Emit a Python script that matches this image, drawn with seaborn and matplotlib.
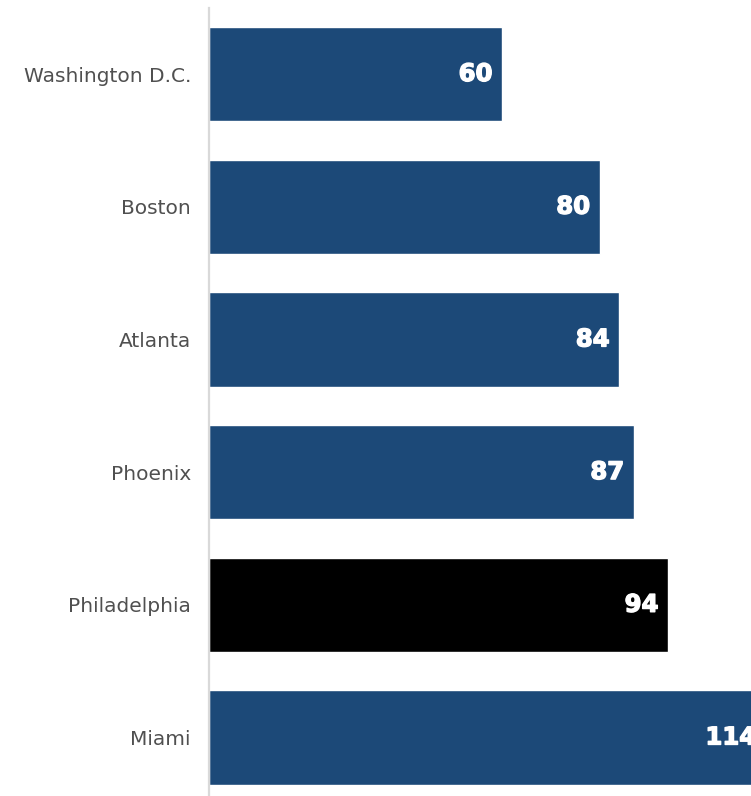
import matplotlib
matplotlib.use("Agg")
import matplotlib.pyplot as plt
import matplotlib.patheffects as pe
import seaborn as sns
import pandas as pd

cities = ["Washington D.C.", "Boston", "Atlanta", "Phoenix", "Philadelphia", "Miami"]
values = [60, 80, 84, 87, 94, 114]
highlight = ["other", "other", "other", "other", "focus", "other"]

palette = {"other": "#1c4978", "focus": "#000000"}

df = pd.DataFrame({"city": cities, "value": values, "group": highlight})

sns.set_theme(style="white")
plt.rcParams["font.family"] = ["DejaVu Sans"]

fig = plt.figure(figsize=(7.51, 7.96), dpi=100)
ax = fig.add_axes([0.2783, -0.0098, 0.7217, 1.0001])

sns.barplot(data=df, y="city", x="value", hue="group", palette=palette,
            orient="h", width=0.71, dodge=False, legend=False, ax=ax,
            saturation=1)

ax.set_xlim(0, 111)
ax.set_ylim(5.5, -0.5)
ax.set_xlabel("")
ax.set_ylabel("")
ax.set_xticks([])
for side in ["top", "right", "bottom"]:
    ax.spines[side].set_visible(False)
ax.spines["left"].set_color("#d9d9d9")
ax.spines["left"].set_linewidth(1.6)
ax.tick_params(axis="y", length=0, pad=13, labelsize=14.5, labelcolor="#505050")

for i, v in enumerate(values):
    ax.annotate(str(v), xy=(v, i), xytext=(-7, 0), textcoords="offset points",
                ha="right", va="center", color="white", fontsize=17.5,
                fontweight="bold", annotation_clip=False,
                path_effects=[pe.withStroke(linewidth=1.0, foreground="white")])

fig.savefig("out.png", dpi=100)
